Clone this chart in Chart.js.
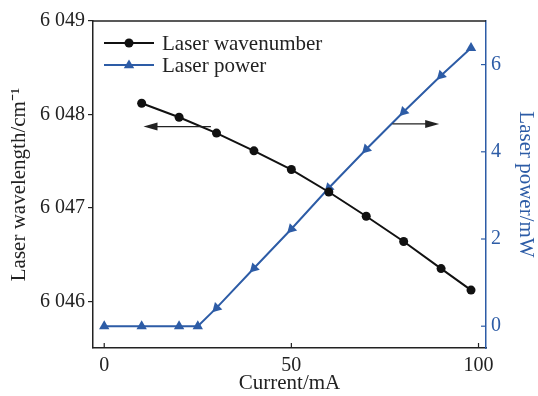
<!DOCTYPE html>
<html>
<head>
<meta charset="utf-8">
<script src="https://cdn.jsdelivr.net/npm/chart.js@4"></script>
<style>
  body { margin: 0; background: #fff; }
</style>
</head>
<body>
<canvas id="chart" width="538" height="396"></canvas>
<script>
// wavenumber vs drive current
var current = [10, 20, 30, 40, 50, 60, 70, 80, 90, 98];
var wavenumber = [6048.12, 6047.97, 6047.80, 6047.61, 6047.41, 6047.17, 6046.91, 6046.64, 6046.35, 6046.12];

// output power vs drive current
var powerCurrent = [0, 10, 20, 25, 30, 40, 50, 60, 70, 80, 90, 98];
var power = [0, 0, 0, 0, 0.42, 1.33, 2.23, 3.17, 4.06, 4.92, 5.75, 6.38];

var xTicks = [0, 50, 100];
var leftTicks = [6046, 6047, 6048, 6049];
var rightTicks = [0, 2, 4, 6];

var blue = '#2d5ca6';
var serif = "'Liberation Serif', 'Times New Roman', serif";

function points(xs, ys) {
  return xs.map(function(x, i) { return {x: x, y: ys[i]}; });
}

function setTicks(values) {
  return function(scale) {
    scale.ticks = values.map(function(v) { return {value: v}; });
  };
}

// inward tick marks, top frame line, arrows and the legend
var extras = {
  id: 'extras',
  afterDatasetsDraw: function(chart) {
    var ctx = chart.ctx;
    var area = chart.chartArea;
    var x = chart.scales.x, yl = chart.scales.y, yr = chart.scales.y1;
    ctx.save();

    ctx.lineWidth = 1.5;
    ctx.strokeStyle = '#222';
    ctx.beginPath();
    ctx.moveTo(area.left, area.top);
    ctx.lineTo(area.right, area.top);
    ctx.stroke();

    ctx.lineWidth = 1.2;
    xTicks.forEach(function(v) {
      var px = x.getPixelForValue(v);
      ctx.beginPath();
      ctx.moveTo(px, area.bottom);
      ctx.lineTo(px, area.bottom - 5);
      ctx.stroke();
    });
    ctx.strokeStyle = blue;
    rightTicks.forEach(function(v) {
      var py = yr.getPixelForValue(v);
      ctx.beginPath();
      ctx.moveTo(area.right, py);
      ctx.lineTo(area.right - 5, py);
      ctx.stroke();
    });

    // arrows pointing at each curve's axis
    function arrow(x0, x1, py) {
      var dir = x1 > x0 ? 1 : -1;
      ctx.strokeStyle = '#222';
      ctx.fillStyle = '#222';
      ctx.lineWidth = 1.3;
      ctx.beginPath();
      ctx.moveTo(x0, py);
      ctx.lineTo(x1 - dir * 10, py);
      ctx.stroke();
      ctx.beginPath();
      ctx.moveTo(x1, py);
      ctx.lineTo(x1 - dir * 14, py - 4);
      ctx.lineTo(x1 - dir * 14, py + 4);
      ctx.closePath();
      ctx.fill();
    }
    arrow(x.getPixelForValue(28.5), x.getPixelForValue(10.5), yl.getPixelForValue(6047.87));
    arrow(x.getPixelForValue(77), x.getPixelForValue(89.5), yr.getPixelForValue(4.64));

    // legend: line with marker, then label
    chart.data.datasets.forEach(function(ds, i) {
      var ly = area.top + 22 + i * 22;
      var lx = area.left + 11;
      ctx.strokeStyle = ds.borderColor;
      ctx.lineWidth = ds.borderWidth;
      ctx.beginPath();
      ctx.moveTo(lx, ly);
      ctx.lineTo(lx + 50, ly);
      ctx.stroke();
      ctx.fillStyle = ds.pointBackgroundColor;
      ctx.beginPath();
      if (ds.pointStyle === 'triangle') {
        var r = 5.5;
        ctx.moveTo(lx + 25, ly - r);
        ctx.lineTo(lx + 25 + r * 0.95, ly + r * 0.6);
        ctx.lineTo(lx + 25 - r * 0.95, ly + r * 0.6);
        ctx.closePath();
      } else {
        ctx.arc(lx + 25, ly, 4.5, 0, Math.PI * 2);
      }
      ctx.fill();
      ctx.fillStyle = '#222';
      ctx.font = '21px ' + serif;
      ctx.textAlign = 'left';
      ctx.textBaseline = 'middle';
      ctx.fillText(ds.label, lx + 58, ly + 1);
    });
    ctx.restore();
  }
};

var ctx = document.getElementById('chart').getContext('2d');
new Chart(ctx, {
  type: 'line',
  data: {
    datasets: [{
      label: 'Laser wavenumber',
      data: points(current, wavenumber),
      yAxisID: 'y',
      borderColor: '#111',
      backgroundColor: '#111',
      pointBackgroundColor: '#111',
      pointBorderWidth: 0,
      pointRadius: 4.5,
      pointStyle: 'circle',
      borderWidth: 2
    }, {
      label: 'Laser power',
      data: points(powerCurrent, power),
      yAxisID: 'y1',
      borderColor: blue,
      backgroundColor: blue,
      pointBackgroundColor: blue,
      pointBorderWidth: 0,
      pointRadius: 6,
      pointStyle: 'triangle',
      // markers on the rising part follow the line downward
      pointRotation: function(c) {
        var v = c.raw;
        return v && v.x >= 30 && v.x <= 90 ? 225 : 0;
      },
      borderWidth: 2
    }]
  },
  options: {
    responsive: false,
    animation: false,
    layout: { padding: { top: 21 } },
    plugins: { legend: { display: false }, tooltip: { enabled: false } },
    scales: {
      x: {
        type: 'linear',
        min: -3,
        max: 102,
        afterBuildTicks: setTicks(xTicks),
        afterFit: function(s) { s.height = 48; },
        grid: { display: false, drawTicks: false },
        border: { display: true, color: '#222', width: 1.5 },
        ticks: { color: '#222', padding: 6, font: { family: serif, size: 20 } },
        title: { display: true, text: 'Current/mA', color: '#222', padding: { top: 0, bottom: 0 }, font: { family: serif, size: 21 } }
      },
      y: {
        position: 'left',
        min: 6045.5,
        max: 6049,
        afterBuildTicks: setTicks(leftTicks),
        afterFit: function(s) { s.width = 93; },
        grid: { drawOnChartArea: false, tickLength: 5, color: '#222', lineWidth: 1.2 },
        border: { display: true, color: '#222', width: 1.5 },
        ticks: {
          color: '#222', padding: 3, font: { family: serif, size: 20 },
          callback: function(v) { return String(v).replace(/^(\d)(\d{3})$/, '$1 $2'); }
        },
        title: { display: true, text: 'Laser wavelength/cm⁻¹', color: '#222', padding: { top: 7, bottom: 0 }, font: { family: serif, size: 21 } }
      },
      y1: {
        position: 'right',
        min: -0.5,
        max: 7,
        afterBuildTicks: setTicks(rightTicks),
        afterFit: function(s) { s.width = 52; },
        grid: { display: false, drawTicks: false },
        border: { display: true, color: blue, width: 1.5 },
        ticks: { color: blue, padding: 5, font: { family: serif, size: 20 } },
        title: { display: true, text: 'Laser power/mW', color: blue, padding: { top: 0, bottom: 0 }, font: { family: serif, size: 21 } }
      }
    }
  },
  plugins: [extras]
});
</script>
</body>
</html>
